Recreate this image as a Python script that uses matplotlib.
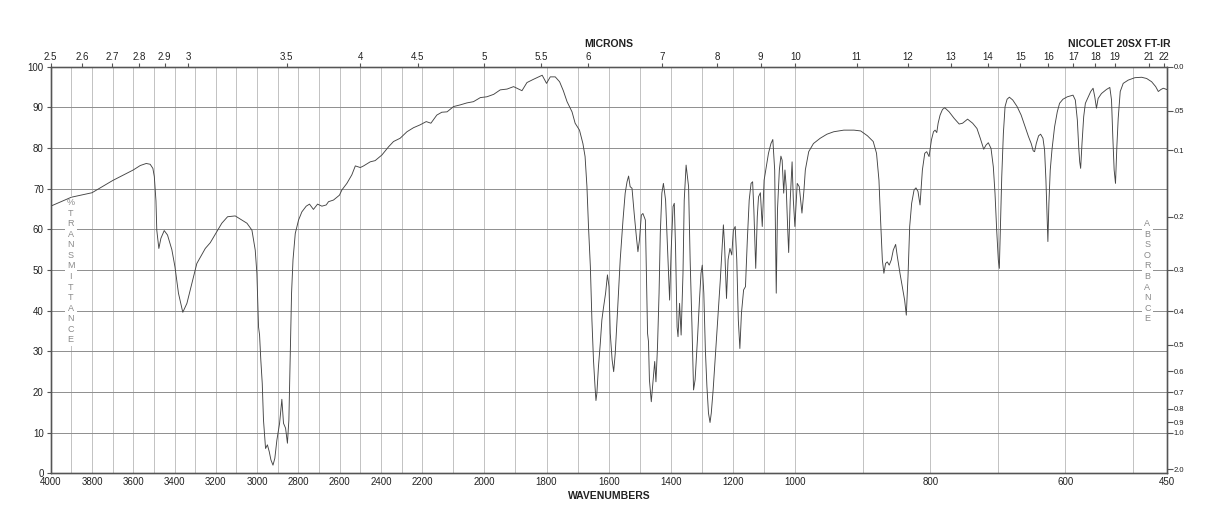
#!/usr/bin/env python3
# FT-IR spektar (Nicolet 20SX) — %T vs wavenumber, razlomljena x-skala

import numpy as np
import matplotlib
matplotlib.use('Agg')
import matplotlib.pyplot as plt

plt.rcParams['font.family'] = ['Liberation Sans', 'DejaVu Sans']

# spektar: wavenumber (cm-1) i %T, očitano sa slike
wavenumber = [
    4000, 3900, 3800, 3700, 3600, 3566, 3537, 3518, 3505, 3498, 3490, 3486, 3476, 3466,
    3450, 3434, 3413, 3398, 3381, 3360, 3340, 3316, 3292, 3251, 3227, 3200, 3171, 3143,
    3106, 3074, 3049, 3025, 3009, 3001, 2993, 2988, 2982, 2975, 2969, 2959, 2950, 2941,
    2933, 2923, 2914, 2904, 2891, 2880, 2872, 2862, 2853, 2846, 2840, 2833, 2826, 2815,
    2799, 2783, 2762, 2746, 2727, 2707, 2686, 2665, 2654, 2630, 2601, 2589, 2565, 2541,
    2524, 2500, 2484, 2452, 2428, 2395, 2363, 2339, 2307, 2274, 2242, 2210, 2187, 2172,
    2153, 2137, 2120, 2099, 2078, 2056, 2035, 2013, 1992, 1970, 1949, 1927, 1906, 1895,
    1879, 1863, 1842, 1820, 1814, 1800, 1788, 1772, 1758, 1746, 1734, 1718, 1708, 1694,
    1683, 1676, 1670, 1665, 1659, 1654, 1649, 1644, 1641, 1638, 1633, 1627, 1622, 1617,
    1610, 1604, 1599, 1595, 1589, 1584, 1579, 1572, 1563, 1554, 1547, 1541, 1536, 1531,
    1525, 1518, 1511, 1506, 1501, 1495, 1490, 1482, 1479, 1475, 1472, 1469, 1463, 1458,
    1452, 1448, 1443, 1438, 1434, 1429, 1424, 1417, 1411, 1404, 1399, 1393, 1389, 1385,
    1380, 1377, 1372, 1367, 1361, 1357, 1351, 1343, 1338, 1332, 1327, 1322, 1314, 1308,
    1303, 1299, 1294, 1289, 1284, 1279, 1274, 1270, 1264, 1257, 1250, 1241, 1235, 1231,
    1227, 1221, 1216, 1210, 1204, 1199, 1193, 1188, 1183, 1178, 1173, 1166, 1160, 1154,
    1148, 1142, 1137, 1133, 1127, 1122, 1118, 1112, 1106, 1100, 1093, 1086, 1078, 1072,
    1066, 1061, 1057, 1051, 1046, 1042, 1037, 1033, 1029, 1024, 1021, 1016, 1010, 1006,
    1001, 997, 994, 990, 987, 985, 980, 973, 963, 953, 943, 928, 913, 903,
    893, 884.5, 879.6, 876, 873.6, 871, 868.7, 866.2, 863.7, 860.8, 857.7, 854.8, 851.3, 848.8,
    844.9, 841.4, 838, 835.5, 833, 830.5, 827.6, 824, 821.2, 818.2, 815.2, 811.7, 808.2, 805.3,
    801.8, 798.3, 795.3, 792.9, 790.4, 788.4, 785.5, 781.9, 778.5, 772.1, 764.7, 757.2, 752.2, 744.8,
    737.3, 730.9, 726, 720.9, 717.6, 714.1, 710.1, 706.7, 704.2, 701.7, 699.3, 697.8, 696.7, 694.2,
    691.8, 689.3, 686.3, 682.9, 677.9, 671.5, 665.5, 660.6, 654.6, 650.6, 647.6, 645.6, 643.1, 639.7,
    636.7, 633.2, 630.8, 628.8, 626.9, 625.9, 624.4, 622.4, 619.9, 616, 612, 608.6, 603.6, 597.1,
    588.7, 585.3, 582.3, 580.3, 578.8, 577.4, 575.4, 572.9, 570.4, 566.4, 562.5, 559, 556.5, 554,
    551.5, 546.6, 539.2, 534.2, 531.7, 529.8, 527.8, 525.8, 523.8, 521.8, 518.8, 514.4, 507, 497.1,
    487.1, 479.7, 472.3, 466.3, 462.4, 458.5, 455, 450,
]
transmittance = [
    65.7, 67.9, 69.0, 72.0, 74.6, 75.7, 76.2, 76.0, 75.0, 73.0, 67.0, 59.8, 55.3, 57.8,
    59.7, 58.6, 55.0, 50.8, 44.3, 39.6, 41.8, 46.7, 51.6, 55.3, 56.7, 59.0, 61.5, 63.1,
    63.3, 62.3, 61.5, 59.8, 54.9, 49.2, 36.0, 34.0, 27.9, 22.1, 13.1, 6.1, 7.0, 5.3,
    3.3, 2.0, 3.7, 8.2, 12.3, 18.2, 12.3, 11.1, 7.4, 13.1, 27.9, 44.3, 52.5, 59.0,
    62.3, 64.3, 65.7, 66.2, 64.9, 66.2, 65.7, 66.0, 66.8, 67.2, 68.4, 69.7, 71.3, 73.4,
    75.6, 75.2, 75.6, 76.6, 76.9, 78.3, 80.3, 81.6, 82.4, 84.0, 85.0, 85.7, 86.5, 86.1,
    88.1, 88.8, 88.9, 90.2, 90.6, 91.1, 91.4, 92.4, 92.6, 93.2, 94.3, 94.5, 95.1, 94.7,
    94.1, 96.1, 96.9, 97.7, 97.9, 95.9, 97.5, 97.5, 96.3, 94.1, 91.4, 88.9, 86.1, 84.4,
    81.1, 77.9, 70.5, 60.7, 50.8, 37.7, 27.9, 21.3, 17.9, 19.7, 26.2, 32.0, 37.7, 40.6,
    44.3, 48.8, 45.9, 34.4, 27.9, 25.0, 29.5, 39.3, 52.5, 62.3, 68.9, 71.7, 73.1, 70.5,
    70.1, 63.9, 58.2, 54.5, 57.4, 63.5, 63.9, 62.3, 50.8, 34.4, 32.4, 23.0, 17.6, 22.1,
    27.5, 22.5, 31.1, 44.3, 59.0, 68.9, 71.3, 67.2, 55.7, 42.6, 54.9, 65.6, 66.4, 55.7,
    36.0, 33.6, 41.8, 34.0, 49.2, 67.2, 75.8, 70.5, 52.5, 36.0, 20.5, 23.0, 33.6, 42.6,
    49.2, 51.2, 44.3, 30.3, 21.3, 14.8, 12.5, 14.8, 20.5, 28.7, 36.9, 47.5, 55.7, 61.1,
    55.7, 43.0, 52.5, 55.3, 53.7, 59.8, 60.7, 52.5, 37.7, 30.7, 39.3, 45.1, 45.9, 57.4,
    67.2, 71.3, 71.7, 64.8, 50.4, 63.1, 68.0, 69.0, 60.7, 72.1, 75.4, 78.7, 81.1, 82.1,
    74.6, 44.3, 64.8, 74.6, 78.0, 77.0, 68.9, 74.6, 70.5, 59.8, 54.3, 67.2, 76.6, 67.2,
    60.7, 71.3, 70.5, 64.0, 69.7, 74.6, 79.1, 81.1, 82.4, 83.4, 84.0, 84.4, 84.4, 84.2,
    83.0, 81.6, 78.7, 72.1, 62.3, 52.5, 49.2, 51.6, 52.0, 51.2, 52.5, 54.9, 56.3, 53.3,
    49.2, 45.9, 42.6, 38.9, 48.4, 60.7, 66.4, 69.7, 70.2, 69.3, 66.0, 74.6, 78.7, 79.1,
    77.9, 82.0, 84.0, 84.4, 83.8, 86.1, 88.1, 89.5, 89.9, 88.9, 87.3, 85.9, 86.1, 87.1,
    86.1, 84.8, 82.4, 79.7, 80.7, 81.3, 79.9, 75.4, 68.9, 59.8, 52.5, 50.4, 57.4, 73.0,
    83.6, 90.2, 92.0, 92.5, 91.8, 90.2, 88.1, 85.7, 82.8, 81.1, 79.3, 79.1, 81.1, 83.0,
    83.4, 82.4, 79.5, 72.1, 62.3, 57.0, 66.4, 74.6, 79.5, 85.2, 88.9, 91.0, 92.0, 92.6,
    93.0, 91.8, 86.9, 80.3, 76.6, 75.0, 81.1, 87.7, 91.0, 92.5, 93.9, 94.7, 92.6, 89.8,
    92.2, 93.4, 94.4, 94.9, 91.8, 82.8, 74.6, 71.3, 80.3, 87.3, 93.9, 95.9, 96.7, 97.3,
    97.4, 97.1, 96.3, 95.1, 93.9, 94.4, 94.7, 94.4,
]

wn_ticks = [4000, 3800, 3600, 3400, 3200, 3000, 2800, 2600, 2400, 2200,
            2000, 1800, 1600, 1400, 1200, 1000, 800, 600, 450]
micron_labels = ['2.5', '2.6', '2.7', '2.8', '2.9', '3', '3.5', '4', '4.5', '5', '5.5',
                 '6', '7', '8', '9', '10', '11', '12', '13', '14', '15', '16', '17',
                 '18', '19', '21', '22']
absorb_labels = ['0.0', '.05', '0.1', '0.2', '0.3', '0.4', '0.5', '0.6', '0.7',
                 '0.8', '0.9', '1.0', '2.0']
absorb_values = [0.0, 0.05, 0.1, 0.2, 0.3, 0.4, 0.5, 0.6, 0.7, 0.8, 0.9, 1.0, 2.0]

# razlomljena skala: 4000-2200, 2200-1000, 1000-450 (udaljenost od desnog ruba)
WN_BREAKS = [450, 1000, 2200, 4000]
PX_BREAKS = [0, 371.5, 744.5, 1116]

def fwd(w):
    return np.interp(w, WN_BREAKS, PX_BREAKS)

def inv(p):
    return np.interp(p, PX_BREAKS, WN_BREAKS)

GRID_H = '#8e8e8e'
GRID_V = '#c2c2c2'
SPINE = '#555555'
TXT = '#222222'

fig = plt.figure(figsize=(12.18, 5.28), dpi=100)
ax = fig.add_axes([50.7 / 1218, 54.7 / 528, 1116 / 1218, 406.6 / 528])

ax.set_xscale('function', functions=(fwd, inv))
ax.plot(wavenumber, transmittance, color='#444444', lw=0.65, zorder=3)
ax.set_xlim(4000, 450)
ax.set_ylim(0, 100)

ax.set_xticks(wn_ticks)
ax.set_xticklabels([str(t) for t in wn_ticks])
ax.set_xticks(np.arange(3900, 450, -100), minor=True)
ax.tick_params(axis='x', which='both', length=0, pad=3, labelsize=7, colors=TXT)
ax.set_yticks(np.arange(0, 101, 10))
ax.tick_params(axis='y', length=3, width=0.8, color=SPINE, pad=2, labelsize=7, labelcolor=TXT)

ax.grid(axis='x', which='both', color=GRID_V, lw=0.7)
ax.grid(axis='y', which='major', color=GRID_H, lw=0.7)
ax.set_axisbelow(True)
for s in ax.spines.values():
    s.set_color(SPINE)
    s.set_linewidth(1.0)

# gornja osa: mikroni
ax_top = ax.twiny()
ax_top.set_xscale('function', functions=(fwd, inv))
ax_top.set_xlim(4000, 450)
ax_top.set_xticks([1e4 / float(m) for m in micron_labels])
ax_top.set_xticklabels(micron_labels)
ax_top.tick_params(axis='x', length=3, width=0.8, color=SPINE, pad=0.5, labelsize=7, labelcolor=TXT)
ax_top.spines['top'].set_color(SPINE)

# desna osa: apsorbancija
ax_r = ax.twinx()
ax_r.set_ylim(0, 100)
ax_r.set_yticks([100 * 10 ** (-a) for a in absorb_values])
ax_r.set_yticklabels(absorb_labels)
ax_r.tick_params(axis='y', length=4, width=0.8, color=SPINE, pad=1, labelsize=5.5, labelcolor=TXT)
for s in ax_r.spines.values():
    s.set_color(SPINE)

label_kw = dict(ha='center', va='center', fontsize=6.5, color='#8a8a8a',
                linespacing=1.22, transform=ax.transAxes, zorder=2,
                bbox=dict(facecolor='white', edgecolor='none', pad=1.5))
ax.text(20 / 1116, 0.497, '\n'.join('%TRANSMITTANCE'), **label_kw)
ax.text(1096.6 / 1116, 0.497, '\n'.join('ABSORBANCE'), **label_kw)

fig.text(0.5, 1 - 44 / 528, 'MICRONS', ha='center', va='center',
         fontsize=7.5, fontweight='bold', color=TXT)
fig.text(1171 / 1218, 1 - 44 / 528, 'NICOLET 20SX FT-IR', ha='right', va='center',
         fontsize=7.5, fontweight='bold', color=TXT)
fig.text(0.5, 1 - 496 / 528, 'WAVENUMBERS', ha='center', va='center',
         fontsize=7.5, fontweight='bold', color=TXT)

fig.savefig('out.png', dpi=100, facecolor='white')
plt.close(fig)
